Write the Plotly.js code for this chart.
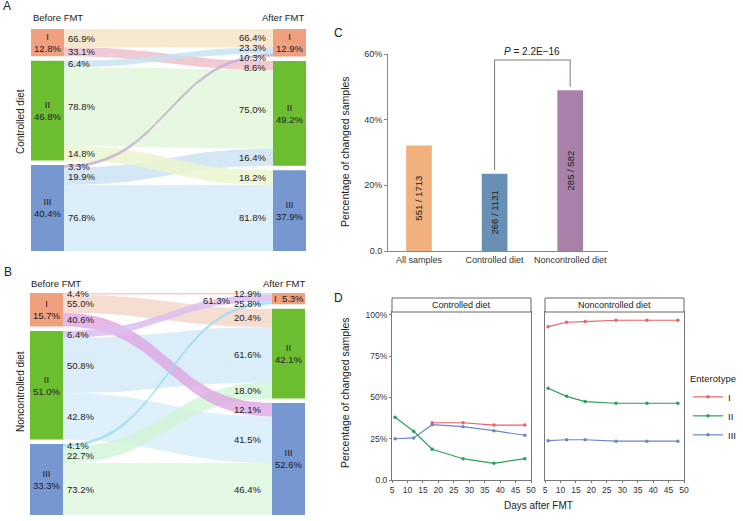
<!DOCTYPE html>
<html>
<head>
<meta charset="utf-8">
<script src="https://cdn.plot.ly/plotly-3.0.1.min.js"></script>
<style>
  html, body { margin: 0; padding: 0; background: #fff; }
  #fig { width: 743px; height: 521px; }
</style>
</head>
<body>
<div id="fig"></div>
<script>
// ---- data ----
var enterotypes = ['I', 'II', 'III'];

// panel A, controlled diet: node shares (%) and flow shares (%)
var beforeA = [12.8, 46.8, 40.4];
var afterA = [12.9, 49.2, 37.9];
// out share of each before-node going to each after-node [from][to]
var outA = [[66.9, 33.1, 0], [6.4, 78.8, 14.8], [3.3, 19.9, 76.8]];
// in share of each after-node coming from each before-node [to][from]
var inA = [[66.4, 23.3, 10.3], [8.6, 75.0, 16.4], [0, 18.2, 81.8]];

// panel B, noncontrolled diet
var beforeB = [15.7, 51.0, 33.3];
var afterB = [5.3, 42.1, 52.6];
var outB = [[4.4, 55.0, 40.6], [6.4, 50.8, 42.8], [4.1, 22.7, 73.2]];
var inB = [[12.9, 61.3, 25.8], [20.4, 61.6, 18.0], [12.1, 41.5, 46.4]];

// panel C
var groups = ['All samples', 'Controlled diet', 'Noncontrolled diet'];
var changed = [551, 266, 285];
var totals = [1713, 1131, 582];
var pText = '<i>P</i> = 2.2E\u221216';

// panel D
var days = [6, 12, 18, 28, 38, 48];
var ctrlI = [null, null, 34.7, 34.7, 33.3, 33.3];
var ctrlII = [38.0, 29.5, 18.6, 12.9, 10.1, 12.9];
var ctrlIII = [25.0, 25.5, 33.5, 32.3, 29.9, 27.1];
var nonI = [92.9, 95.6, 96.0, 96.8, 96.8, 96.8];
var nonII = [55.6, 50.7, 47.5, 46.5, 46.5, 46.5];
var nonIII = [23.8, 24.4, 24.4, 23.5, 23.5, 23.5];

// ---- styles ----
var FONT = 'Liberation Sans, Arial, sans-serif';
var TXT = '#222';
var nodeColors = ['#EFA07E', '#6CBD2F', '#7697CF'];
var linkColA = [
  ['rgba(245,226,196,0.8)', 'rgba(238,188,200,0.8)', 'rgba(0,0,0,0)'],
  ['rgba(198,226,240,0.8)', 'rgba(226,247,218,0.85)', 'rgba(234,245,206,0.85)'],
  ['rgba(196,176,214,0.85)', 'rgba(200,225,242,0.8)', 'rgba(214,235,248,0.85)']
];
var linkColB = [
  ['rgba(242,192,202,0.8)', 'rgba(244,212,198,0.8)', 'rgba(220,160,226,0.75)'],
  ['rgba(218,190,240,0.85)', 'rgba(210,233,246,0.8)', 'rgba(214,236,247,0.8)'],
  ['rgba(160,222,240,0.85)', 'rgba(208,244,214,0.8)', 'rgba(222,248,226,0.85)']
];
var barColors = ['#F2B07F', '#6890B4', '#A880A8'];
var lineColors = ['#E8636A', '#2E9E5F', '#6B86C8'];

var W = 743, H = 521;
function px(x) { return x / W; }
function py(y) { return 1 - y / H; }

var traces = [];
var shapes = [];
var annotations = [];

// ---- sankey drawn from the shares ----
var GAP = 2.11;      // gap between nodes, in % units
var NODE_W = 0.12;   // node width, fraction of the x range

function bandPoints(xa, xb, ya0, ya1, yb0, yb1) {
  var xs = [], ys = [], n = 40, xm = (xa + xb) / 2, i, t, u;
  for (i = 0; i <= n; i++) {
    t = i / n; u = 1 - t;
    xs.push(u*u*u*xa + 3*u*u*t*xm + 3*u*t*t*xm + t*t*t*xb);
    ys.push(u*u*u*ya0 + 3*u*u*t*ya0 + 3*u*t*t*yb0 + t*t*t*yb0);
  }
  for (i = n; i >= 0; i--) {
    t = i / n; u = 1 - t;
    xs.push(u*u*u*xa + 3*u*u*t*xm + 3*u*t*t*xm + t*t*t*xb);
    ys.push(u*u*u*ya1 + 3*u*u*t*ya1 + 3*u*t*t*yb1 + t*t*t*yb1);
  }
  return {x: xs, y: ys};
}

function repel(items, minGap, lo, hi) {
  items.sort(function (a, b) { return a.c - b.c; });
  items.forEach(function (d) { d.y = d.c; });
  for (var k = 0; k < 200; k++) {
    for (var i = 1; i < items.length; i++) {
      var d = items[i].y - items[i-1].y;
      if (d < minGap) {
        var m = (minGap - d) / 2;
        items[i-1].y -= m; items[i].y += m;
      }
    }
    items.forEach(function (d) { d.y = Math.max(lo, Math.min(hi, d.y)); });
  }
  return items;
}

function drawSankey(xn, yn, dom, before, after, outS, inS, cols, opts) {
  var xa = 'x' + (xn === 1 ? '' : xn), ya = 'y' + (yn === 1 ? '' : yn);
  var total = 100 + 2 * GAP;
  var pxPerX = dom.x1 - dom.x0;
  var pxPerY = (dom.y1 - dom.y0) / total;
  var lt = [], rt = [], acc = 0, i, j;
  for (i = 0; i < 3; i++) { lt.push(acc); acc += before[i] + GAP; }
  acc = 0;
  for (i = 0; i < 3; i++) { rt.push(acc); acc += after[i] + GAP; }

  var flows = [];
  for (i = 0; i < 3; i++) {
    for (j = 0; j < 3; j++) {
      if (!outS[i][j]) continue;
      var so = 0, k;
      for (k = 0; k < j; k++) so += outS[i][k];
      var ti = 0;
      for (k = 0; k < i; k++) ti += inS[j][k];
      var ly0 = lt[i] + before[i] * so / 100;
      var ly1 = ly0 + before[i] * outS[i][j] / 100;
      var ry0 = rt[j] + after[j] * ti / 100;
      var ry1 = ry0 + after[j] * inS[j][i] / 100;
      flows.push({i: i, j: j, ly0: ly0, ly1: ly1, ry0: ry0, ry1: ry1, w: outS[i][j] * before[i]});
    }
  }
  flows.slice().sort(function (a, b) { return b.w - a.w; }).forEach(function (f) {
    var p = bandPoints(NODE_W, 1 - NODE_W, f.ly0, f.ly1, f.ry0, f.ry1);
    traces.push({
      x: p.x, y: p.y, xaxis: xa, yaxis: ya, mode: 'lines', fill: 'toself',
      fillcolor: cols[f.i][f.j], line: {width: 0}, hoverinfo: 'skip', showlegend: false
    });
  });

  // nodes
  [[before, lt, 0], [after, rt, 1 - NODE_W]].forEach(function (side) {
    for (var n = 0; n < 3; n++) {
      var y0 = side[1][n], y1 = y0 + side[0][n];
      shapes.push({type: 'rect', xref: xa, yref: ya, x0: side[2], x1: side[2] + NODE_W,
        y0: y0, y1: y1, fillcolor: nodeColors[n], line: {width: 0}, layer: 'above'});
      var small = (y1 - y0) * pxPerY < 20;
      annotations.push({xref: xa, yref: ya, x: side[2] + NODE_W / 2, y: (y0 + y1) / 2,
        text: small ? enterotypes[n] + '  ' + side[0][n].toFixed(1) + '%'
                    : enterotypes[n] + '<br>' + side[0][n].toFixed(1) + '%',
        showarrow: false, font: {family: FONT, size: 9.5, color: '#1c1c2a'},
        xanchor: 'center', yanchor: 'middle'});
    }
  });

  // flow labels, pushed apart where they would collide
  var minGap = 10 / pxPerY;
  var left = flows.map(function (f) { return {c: (f.ly0 + f.ly1) / 2, t: outS[f.i][f.j]}; });
  var right = flows.map(function (f) {
    return {c: (f.ry0 + f.ry1) / 2, t: inS[f.j][f.i], key: f.i + '-' + f.j};
  });
  repel(left, minGap, 0, total - 1.5).forEach(function (d) {
    annotations.push({xref: xa, yref: ya, x: NODE_W + 1.5 / pxPerX, y: d.y,
      text: d.t.toFixed(1) + '%', showarrow: false, xanchor: 'left', yanchor: 'middle',
      font: {family: FONT, size: 9.5, color: TXT}});
  });
  var sh = opts.shift || {};
  var shifted = right.filter(function (d) { return sh[d.key]; });
  var rest = right.filter(function (d) { return !sh[d.key]; });
  repel(rest, minGap, -1.5, total - 1.5);
  shifted.forEach(function (d) { d.y = d.c + sh[d.key][1] / pxPerY; });
  rest.concat(shifted).forEach(function (d) {
    var dx = sh[d.key] ? sh[d.key][0] : 0;
    annotations.push({xref: xa, yref: ya, x: 1 - NODE_W - (opts.rpad + dx) / pxPerX, y: d.y,
      text: d.t.toFixed(1) + '%', showarrow: false, xanchor: 'right', yanchor: 'middle',
      font: {family: FONT, size: 9.5, color: TXT}});
  });
}

var domA = {x0: 31, x1: 306, y0: 29, y1: 251};
var domB = {x0: 30, x1: 305, y0: 293, y1: 515};
drawSankey(1, 1, domA, beforeA, afterA, outA, inA, linkColA, {rpad: 5});
drawSankey(2, 2, domB, beforeB, afterB, outB, inB, linkColB, {rpad: 9, shift: {'1-0': [31, 3]}});

// ---- panel C bars ----
var pct = changed.map(function (c, i) { return c / totals[i] * 100; });
traces.push({
  type: 'bar', x: groups, y: pct, xaxis: 'x3', yaxis: 'y3', width: 0.34,
  marker: {color: barColors, line: {width: 0}},
  text: changed.map(function (c, i) { return c + ' / ' + totals[i]; }),
  textposition: 'inside', insidetextanchor: 'middle', textangle: -90,
  constraintext: 'none', textfont: {family: FONT, size: 9.5, color: TXT},
  hoverinfo: 'skip', showlegend: false, cliponaxis: false
});
var brTop = Math.max.apply(null, pct) + 9.2;
shapes.push({type: 'path', xref: 'x3', yref: 'y3',
  path: 'M 1,' + (pct[1] + 1.1) + ' L 1,' + brTop + ' L 2,' + brTop + ' L 2,' + (pct[2] + 1),
  line: {color: '#7a7a7a', width: 1}});
annotations.push({xref: 'x3', yref: 'y3', x: 1.5, y: brTop, yshift: 9, text: pText,
  showarrow: false, font: {family: FONT, size: 10, color: TXT}});

// ---- panel D lines ----
function lineTrace(y, ci, name, xa, ya, legend) {
  return {x: days, y: y, name: name, xaxis: xa, yaxis: ya, mode: 'lines+markers',
    line: {color: lineColors[ci], width: 1.2}, marker: {color: lineColors[ci], size: 3.5},
    showlegend: legend, legendgroup: name, hoverinfo: 'skip', connectgaps: false};
}
traces.push(lineTrace(ctrlI, 0, 'I', 'x4', 'y4', false));
traces.push(lineTrace(ctrlII, 1, 'II', 'x4', 'y4', false));
traces.push(lineTrace(ctrlIII, 2, 'III', 'x4', 'y4', false));
traces.push(lineTrace(nonI, 0, 'I', 'x5', 'y5', true));
traces.push(lineTrace(nonII, 1, 'II', 'x5', 'y5', true));
traces.push(lineTrace(nonIII, 2, 'III', 'x5', 'y5', true));

// strips
[[392, 531, 'Controlled diet'], [545, 684, 'Noncontrolled diet']].forEach(function (s) {
  shapes.push({type: 'rect', xref: 'paper', yref: 'paper', x0: px(s[0]), x1: px(s[1]),
    y0: py(312), y1: py(298), fillcolor: '#fff', line: {color: '#666', width: 1}});
  annotations.push({xref: 'paper', yref: 'paper', x: px((s[0] + s[1]) / 2), y: py(305),
    text: s[2], showarrow: false, xanchor: 'center', yanchor: 'middle',
    font: {family: FONT, size: 9, color: TXT}});
});

// ---- text labels ----
function txt(x, y, t, size, xanchor, extra) {
  var a = {xref: 'paper', yref: 'paper', x: px(x), y: py(y), text: t, showarrow: false,
    xanchor: xanchor || 'left', yanchor: 'middle', font: {family: FONT, size: size, color: TXT}};
  for (var k in extra) a[k] = extra[k];
  annotations.push(a);
}
txt(1, 6, 'A', 12);
txt(2, 272, 'B', 12);
txt(332, 33, 'C', 12);
txt(332, 298, 'D', 12);
txt(31, 18, 'Before FMT', 9.5);
txt(306, 18, 'After FMT', 9.5, 'right');
txt(29, 283, 'Before FMT', 9.5);
txt(307, 283, 'After FMT', 9.5, 'right');
txt(20, 122, 'Controlled diet', 10, 'center', {textangle: -90});
txt(20, 392, 'Noncontrolled diet', 10, 'center', {textangle: -90});
txt(345, 152, 'Percentage of changed samples', 10.5, 'center', {textangle: -90});
txt(345, 393, 'Percentage of changed samples', 10.5, 'center', {textangle: -90});
txt(538, 505, 'Days after FMT', 10, 'center');

var tickFont = {family: FONT, size: 9, color: '#333'};
var layout = {
  width: W, height: H, margin: {l: 0, r: 0, t: 0, b: 0},
  paper_bgcolor: '#fff', plot_bgcolor: 'rgba(0,0,0,0)',
  font: {family: FONT, color: TXT},
  showlegend: true,
  xaxis: {domain: [px(domA.x0), px(domA.x1)], range: [0, 1], visible: false, fixedrange: true},
  yaxis: {domain: [py(domA.y1), py(domA.y0)], range: [100 + 2 * GAP, 0], visible: false, fixedrange: true},
  xaxis2: {domain: [px(domB.x0), px(domB.x1)], range: [0, 1], visible: false, fixedrange: true, anchor: 'y2'},
  yaxis2: {domain: [py(domB.y1), py(domB.y0)], range: [100 + 2 * GAP, 0], visible: false, fixedrange: true, anchor: 'x2'},
  xaxis3: {domain: [px(388), px(608)], range: [-0.41, 2.5], type: 'category', anchor: 'y3',
    showline: true, linecolor: '#888', linewidth: 1, ticks: '', tickfont: tickFont,
    showgrid: false, zeroline: false, fixedrange: true},
  yaxis3: {domain: [py(251), py(54)], range: [0, 60], tickvals: [0, 20, 40, 60], anchor: 'x3',
    ticktext: ['0.0', '20%', '40%', '60%'], showline: true, linecolor: '#888', linewidth: 1,
    ticks: 'outside', ticklen: 3, tickcolor: '#888', tickfont: tickFont,
    showgrid: false, zeroline: false, fixedrange: true},
  xaxis4: {domain: [px(392), px(531)], range: [5, 50], dtick: 5, tick0: 5, anchor: 'y4',
    showline: true, mirror: true, linecolor: '#777', linewidth: 1, ticks: 'outside',
    ticklen: 2, tickcolor: '#777', tickfont: {family: FONT, size: 8.5, color: '#333'},
    showgrid: false, zeroline: false, fixedrange: true},
  yaxis4: {domain: [py(480), py(312)], range: [0, 101.8], tickvals: [0, 25, 50, 75, 100], anchor: 'x4',
    ticktext: ['0.0', '25%', '50%', '75%', '100%'], showline: true, mirror: true,
    linecolor: '#777', linewidth: 1, ticks: 'outside', ticklen: 2, tickcolor: '#777',
    tickfont: {family: FONT, size: 8.5, color: '#333'}, showgrid: false, zeroline: false, fixedrange: true},
  xaxis5: {domain: [px(545), px(684)], range: [5, 50], dtick: 5, tick0: 5, anchor: 'y5',
    showline: true, mirror: true, linecolor: '#777', linewidth: 1, ticks: 'outside',
    ticklen: 2, tickcolor: '#777', tickfont: {family: FONT, size: 8.5, color: '#333'},
    showgrid: false, zeroline: false, fixedrange: true},
  yaxis5: {domain: [py(480), py(312)], range: [0, 101.8], anchor: 'x5', showticklabels: false,
    tickvals: [0, 25, 50, 75, 100], ticks: '', showline: true, mirror: true,
    linecolor: '#777', linewidth: 1, showgrid: false, zeroline: false, fixedrange: true},
  legend: {x: px(688), y: py(370), xanchor: 'left', yanchor: 'top', bgcolor: 'rgba(0,0,0,0)',
    title: {text: 'Enterotype', font: {family: FONT, size: 9.5, color: TXT}},
    font: {family: FONT, size: 9.5, color: TXT}, itemwidth: 30, tracegroupgap: 0},
  shapes: shapes,
  annotations: annotations
};

Plotly.newPlot('fig', traces, layout, {displayModeBar: false, staticPlot: true});
</script>
</body>
</html>
